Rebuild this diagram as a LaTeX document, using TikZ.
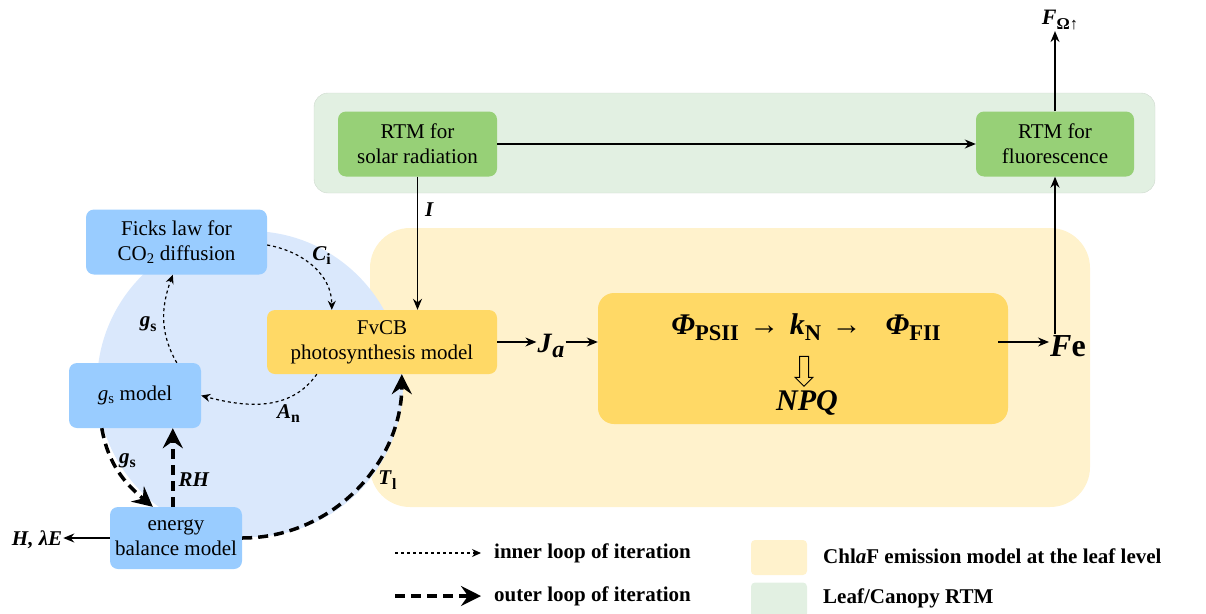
\documentclass[tikz,border=0pt]{standalone}
\usepackage{fontspec}
\setmainfont{Liberation Serif}
\usetikzlibrary{arrows,arrows.meta,shapes.arrows}
\definecolor{boxblue}{RGB}{153,204,255}
\definecolor{loopblue}{RGB}{218,232,252}
\definecolor{boxgold}{RGB}{255,217,102}
\definecolor{leafyellow}{RGB}{255,242,204}
\definecolor{boxgreen}{RGB}{151,208,119}
\definecolor{rtmgreen}{RGB}{226,240,226}
\makeatletter
\newcommand{\bfit}[1]{\textbf{\textit{#1}}}
\newcommand{\bsub}[1]{\raisebox{-0.22em}{\fontsize{\fpeval{0.75*\f@size}}{0}\selectfont\textbf{#1}}}
\makeatother

\begin{document}
\begin{tikzpicture}[x=1pt,y=-1pt,>={Stealth[length=11pt,width=9pt]},
                    every node/.style={font=\fontsize{21}{25}\selectfont},
                    box node/.style={rectangle,rounded corners=8pt,align=center,inner sep=0pt},
                    blue node/.style={box node,fill=boxblue},
                    gold node/.style={box node,fill=boxgold},
                    green node/.style={box node,fill=boxgreen},
                    lbl/.style={inner sep=1pt},
                    flow/.style={->,line width=1.3pt},
                    inner loop/.style={-{Stealth[length=9pt,width=8pt]},line width=1.2pt,dash pattern=on 3pt off 3pt},
                    outer loop/.style={-{Stealth[length=20pt,width=20pt,inset=7pt]},line width=3.5pt,dash pattern=on 10pt off 6pt}]
  \useasboundingbox (0,0) rectangle (1206,613);
  % background regions
  \node[rectangle,rounded corners=14pt,fill=rtmgreen,draw=rtmgreen!80!gray,line width=0.4pt,
        minimum width=841pt,minimum height=100pt] (rtmreg) at (734.5,143) {};
  \node[rectangle,rounded corners=40pt,fill=leafyellow,
        minimum width=720pt,minimum height=279pt] (leafreg) at (730,367.5) {};
  \node[circle,fill=loopblue,minimum size=306pt,inner sep=0pt] (loop) at (250,384) {};

  % model boxes
  \node[green node,minimum width=159pt,minimum height=65pt] (rtmsolar) at (417.5,144) {RTM for\\solar radiation};
  \node[green node,minimum width=158pt,minimum height=65pt] (rtmfluo) at (1055,144) {RTM for\\fluorescence};
  \node[blue node,minimum width=181pt,minimum height=65pt] (ficks) at (176.5,242) {Ficks law for\\CO\textsubscript{2} diffusion};
  \node[blue node,minimum width=132pt,minimum height=65pt] (gsmodel) at (135,395.5) {\textit{g}\textsubscript{s} model};
  \node[blue node,minimum width=132pt,minimum height=62pt] (energy) at (176,538) {energy\\balance model};
  \node[gold node,minimum width=230pt,minimum height=64pt] (fvcb) at (382,342) {FvCB\\photosynthesis model};
  \node[gold node,rounded corners=16pt,minimum width=410pt,minimum height=131pt] (emission) at (803,358.5) {};

  % inside the emission box
  \node[lbl,font=\fontsize{30}{34}\selectfont] (phirow) at (806,327)
    {\bfit{Φ}\bsub{PSII}\hspace{0.35em}→\hspace{0.35em}\bfit{k}\bsub{N}\hspace{0.35em}→\hspace{0.8em}\bfit{Φ}\bsub{FII}};
  \node[single arrow,draw,line width=1pt,rotate=-90,minimum height=30pt,
        single arrow head extend=4.5pt,single arrow head indent=0pt,inner sep=0pt] (down) at (804,369) {\rule{0pt}{8pt}};
  \node[lbl,font=\fontsize{30}{34}\selectfont] (npq) at (807,403) {\bfit{NPQ}};

  % fluxes
  \node[lbl,font=\fontsize{28}{32}\selectfont] (ja) at (551,346) {\bfit{J}\raisebox{-0.2em}{\fontsize{24}{0}\selectfont\bfit{a}}};
  \node[lbl,font=\fontsize{32}{36}\selectfont] (fe) at (1068,346) {\bfit{F}\textbf{e}};
  \node[lbl,font=\fontsize{22}{26}\selectfont] (fout) at (1060,20) {\bfit{F}\bsub{Ω↑}};
  \node[lbl] (hle) at (37,540) {\bfit{H, λE}};

  \draw[flow] (rtmsolar) -- (rtmfluo);
  \draw[flow] (rtmfluo.north) -- (rtmfluo.north |- fout.south);
  \draw[flow] (rtmsolar.south) -- node[right,lbl,xshift=6pt,pos=0.25] {\bfit{I}} (rtmsolar.south |- fvcb.north);
  \draw[flow] (fvcb.east) -- (fvcb.east -| ja.west);
  \draw[flow] (fvcb.east -| ja.east) -- (fvcb.east -| emission.west);
  \draw[flow] ([xshift=-10pt]emission.east |- fvcb.east) -- (fvcb.east -| fe.west);
  \draw[flow] (rtmfluo.south |- fe.north) -- (rtmfluo.south);
  \draw[flow] (energy.west) -- (energy.west -| hle.east);

  % inner loop of iteration
  \draw[inner loop] ([yshift=-3pt]ficks.east) to[out=-10,in=90]
    node[pos=0.5,above right,lbl,xshift=-2pt] {\bfit{C}\bsub{i}} ([xshift=65pt]fvcb.north west);
  \draw[inner loop] ([xshift=50pt]fvcb.south west) to[out=-125,in=-15]
    node[pos=0.3,below,lbl,yshift=-5pt] {\bfit{A}\bsub{n}} (gsmodel.east);
  \draw[inner loop] ([xshift=108pt]gsmodel.north west) to[out=120,in=-110]
    node[pos=0.45,left,lbl,xshift=-6pt] {\bfit{g}\bsub{s}} ([xshift=87pt]ficks.south west);

  % outer loop of iteration
  \draw[outer loop] ([xshift=33pt]gsmodel.south west) to[out=-80,in=140]
    node[pos=0.35,right,lbl,xshift=4pt] {\bfit{g}\bsub{s}} ([xshift=43pt]energy.north west);
  \draw[outer loop] ([xshift=63pt]energy.north west) --
    node[pos=0.35,right,lbl,xshift=3pt] {\bfit{RH}} ([xshift=104pt]gsmodel.south west);
  \draw[outer loop] (energy.east) to[out=0,in=-90]
    node[pos=0.55,right,lbl,xshift=12pt] {\bfit{T}\bsub{l}} ([xshift=135pt]fvcb.south west);

  % legend
  \coordinate (innerkey) at (395,553);
  \coordinate (outerkey) at (395,596);
  \node[lbl,anchor=west,font=\fontsize{21}{25}\selectfont\bfseries] (innertxt) at (493,553) {inner loop of iteration};
  \node[lbl,anchor=west,font=\fontsize{21}{25}\selectfont\bfseries] (outertxt) at (493,596) {outer loop of iteration};
  \draw[inner loop] (innerkey) -- ([xshift=-12pt]innertxt.west);
  \draw[outer loop] (outerkey) -- ([xshift=-12pt]outertxt.west);
  \node[rectangle,rounded corners=4pt,fill=leafyellow,minimum width=56pt,minimum height=35pt] (leafkey) at (779,557.5) {};
  \node[rectangle,rounded corners=4pt,fill=rtmgreen,minimum width=56pt,minimum height=35pt] (rtmkey) at (779,600) {};
  \node[lbl,anchor=west,font=\fontsize{21}{25}\selectfont\bfseries] (leaftxt) at (822,556) {Chl\textit{a}F emission model at the leaf level};
  \node[lbl,anchor=west,font=\fontsize{21}{25}\selectfont\bfseries] (rtmtxt) at (822,598) {Leaf/Canopy RTM};
\end{tikzpicture}
\end{document}
